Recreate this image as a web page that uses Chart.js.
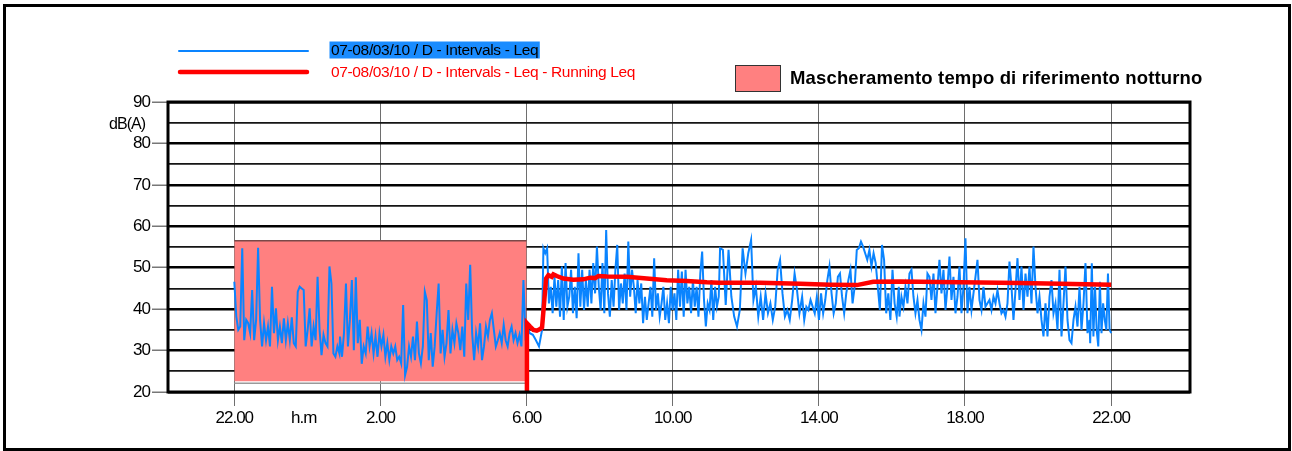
<!DOCTYPE html>
<html>
<head>
<meta charset="utf-8">
<script src="https://cdn.jsdelivr.net/npm/chart.js@4.4.1/dist/chart.umd.min.js"></script>
<style>
  html, body { margin: 0; padding: 0; background: #fff; }
  canvas { display: block; }
</style>
</head>
<body>
<canvas id="leqChart" width="1292" height="451"></canvas>
<script>
// x axis: hours after 22:00 on 07/03/10
const tickHours = [0, 4, 8, 12, 16, 20, 24];
const tickLabels = ['22.00', '2.00', '6.00', '10.00', '14.00', '18.00', '22.00'];
const xRange = [-1.815, 26.16];
const yRange = [20, 90];

// night masking window (22:00 - 6:00)
const maskHours = [0, 8];
const maskLevels = [56.5, 22.6];
const maskBaseLevel = 22.1;

// Leq intervals, split into stretches; each stretch spans segStart..segEnd
const segStart = [0.0, 2.894, 8.005, 8.461, 13.297, 14.21, 15.543, 18.207, 23.428];
const segEnd = [2.876, 7.968, 8.424, 13.261, 14.146, 15.469, 18.189, 23.409, 24.003];

const leqNight1 = [46.6, 38.2, 35.0, 35.8, 54.7, 32.5, 37.4, 36.6, 34.2, 44.6, 32.5, 37.4, 54.8, 37.4, 31.0, 36.6, 32.5, 35.8,
  31.0, 45.4, 34.2, 40.2, 32.5, 35.8, 31.8, 37.8, 32.5, 36.6, 32.5, 38.0, 31.8, 31.0, 44.2, 45.4, 45.0, 44.6, 31.0, 35.0,
  40.2, 31.0, 35.8, 32.5, 47.8, 35.0, 28.9, 33.8, 31.8, 31.0, 50.3, 46.2, 29.3, 28.5, 31.0, 29.3];
const leqNight2 = [33.4, 28.5, 34.2, 46.2, 31.0, 37.4, 47.0, 30.1, 47.7, 31.8, 37.4, 26.8, 31.0, 29.3, 35.8, 31.0, 34.2, 29.3,
  33.4, 28.5, 34.2, 31.0, 33.8, 28.5, 31.8, 27.7, 31.0, 29.3, 31.0, 27.7, 28.5, 26.9, 41.0, 24.1, 26.1, 31.0, 28.5, 33.4,
  27.7, 37.0, 29.3, 26.9, 31.0, 44.2, 42.2, 27.7, 34.2, 26.1, 31.0, 39.0, 46.2, 29.3, 35.0, 28.5, 31.8, 39.8, 29.3, 35.0,
  31.8, 36.6, 34.2, 30.1, 35.8, 28.5, 46.2, 37.4, 50.7, 34.2, 27.7, 34.2, 31.0, 36.6, 27.7, 31.0, 35.8, 33.4, 37.4, 39.0,
  35.0, 31.0, 32.5, 34.2, 31.8, 36.2, 32.5, 31.0, 34.2, 35.8, 32.5, 34.2, 31.8, 33.8, 31.0, 47.0, 34.2];
const leqDawn = [35.8, 34.2, 33.8, 32.5, 31.0, 35.0];
const leqMorning = [54.7, 53.5, 54.7, 41.4, 45.4, 39.0, 47.8, 40.6, 47.0, 38.2, 50.3, 37.4, 51.1, 40.6, 43.0, 49.5, 39.0, 45.4,
  37.8, 53.5, 40.6, 49.5, 39.8, 47.0, 40.6, 49.5, 41.4, 51.1, 43.8, 55.1, 45.4, 39.8, 51.1, 39.0, 59.1, 43.8, 38.2, 47.0,
  40.6, 49.5, 55.5, 39.8, 46.2, 41.4, 48.6, 39.8, 56.3, 43.0, 49.5, 45.4, 39.0, 47.0, 41.4, 46.2, 36.6, 43.0, 37.4, 41.4,
  45.4, 38.2, 52.3, 39.8, 43.8, 38.2, 41.4, 45.4, 37.4, 41.4, 36.6, 45.4, 39.8, 43.8, 37.4, 49.5, 40.6, 49.1, 38.2, 49.5,
  41.4, 45.4, 39.0, 47.0, 40.6, 45.4, 38.2, 48.6, 53.9, 42.2, 35.8, 41.4, 39.8, 47.0, 37.4, 45.4, 40.6, 43.0];
const leqNoon = [54.7, 54.3, 41.0, 54.3, 43.0, 38.2, 35.8, 39.8, 54.7, 48.6, 53.5, 56.7];
const leqEarlyAfternoon = [42.2, 45.4, 38.2, 43.0, 37.4, 43.8, 39.0, 41.4, 37.4, 40.6, 49.5, 51.9, 43.8, 38.2, 39.8, 37.4,
  42.2, 48.6, 44.6, 39.0];
const leqAfternoon = [43.0, 37.4, 40.6, 39.8, 42.2, 40.6, 39.0, 43.0, 37.4, 43.8, 39.0, 42.2, 47.0, 50.3, 43.8, 39.0, 41.4,
  47.8, 48.6, 43.0, 39.0, 43.8, 47.0, 49.5, 41.4, 45.4, 54.3, 54.7, 56.3, 55.1, 53.5, 51.9, 54.3, 50.3, 53.5, 51.1, 45.4,
  39.8, 55.5, 51.9, 39.0, 43.8, 37.4, 49.5, 41.4, 38.2, 45.4];
const leqEvening = [38.2, 43.0, 40.6, 45.4, 41.4, 48.6, 49.5, 43.0, 39.0, 42.2, 37.4, 35.0, 41.4, 38.2, 48.6, 47.8, 42.2, 48.6,
  39.0, 45.4, 51.9, 43.8, 49.5, 39.8, 45.4, 52.7, 42.2, 47.8, 39.0, 43.0, 50.3, 39.0, 45.4, 57.1, 39.0, 45.4, 39.8, 43.8,
  47.8, 51.9, 42.2, 39.8, 45.4, 40.6, 41.4, 42.2, 39.8, 43.0, 41.4, 44.6, 41.4, 39.0, 39.8, 38.2, 41.4, 51.5, 45.4, 37.4,
  44.6, 52.3, 42.2, 50.3, 39.8, 48.6, 43.0, 50.3, 41.4, 55.1, 45.4, 39.0, 43.0, 37.4, 33.4, 41.4, 33.4, 43.0, 47.0, 39.0,
  41.4, 35.0, 49.5, 33.4, 41.4, 50.3, 37.4, 32.5, 31.8, 37.4, 40.6, 35.8, 45.4, 35.0, 41.4, 51.1, 34.2, 37.4];
const leqLate = [31.8, 51.1, 33.4, 45.4, 35.0, 31.0, 46.6, 34.2, 41.4, 37.4, 35.0, 48.6, 35.0, 34.2];
const leqSegments = [leqNight1, leqNight2, leqDawn, leqMorning, leqNoon, leqEarlyAfternoon, leqAfternoon, leqEvening, leqLate];

// running Leq (starts at 6:00)
const runHours = [8.0, 8.01, 8.096, 8.186, 8.279, 8.37, 8.424, 8.479, 8.534, 8.597, 8.69, 8.734, 8.827, 9.008, 9.281, 9.555,
  9.739, 9.875, 9.966, 10.196, 10.743, 11.291, 11.838, 12.386, 12.934, 13.26, 14.39, 15.49, 16.31, 17.04, 17.49, 18.23,
  19.87, 21.51, 22.6, 24.003];
const runLeq = [20.0, 36.6, 35.8, 35.0, 34.8, 35.2, 35.6, 41.4, 47.4, 48.2, 47.8, 48.4, 48.0, 47.4, 47.1, 47.2,
  47.6, 47.5, 48.0, 47.9, 47.8, 47.4, 47.0, 46.8, 46.5, 46.4, 46.4, 46.1, 45.9, 45.8, 46.6, 46.7,
  46.5, 46.3, 46.1, 45.9];

const legendLabels = ['07-08/03/10 / D - Intervals - Leq', '07-08/03/10 / D - Intervals - Leq - Running Leq',
  'Mascheramento tempo di riferimento notturno'];

const BLUE = '#0a84ff';
const RED = '#ff0000';
const PINK = '#ff8080';
const FONT = "'Liberation Sans', Arial, sans-serif";

Chart.defaults.font.family = FONT;
Chart.defaults.color = '#000';

const leqPoints = [];
leqSegments.forEach((vals, s) => {
  const step = (segEnd[s] - segStart[s]) / (vals.length - 1);
  vals.forEach((v, i) => leqPoints.push({ x: segStart[s] + i * step, y: v }));
});
const runPoints = runHours.map((h, i) => ({ x: h, y: runLeq[i] }));
const maskPoints = maskHours.map(h => ({ x: h, y: maskLevels[0] }));
const maskBase = maskHours.map(h => ({ x: h, y: maskBaseLevel }));

// legend, frames and the loose captions
const overlay = {
  id: 'overlay',
  beforeDraw(chart) {
    chart.ctx.letterSpacing = '-1px';
  },
  afterDraw(chart) {
    const { ctx, chartArea: a } = chart;
    ctx.save();
    ctx.letterSpacing = '0px';
    ctx.strokeStyle = '#000';
    ctx.lineWidth = 3;
    ctx.strokeRect(a.left, a.top, a.right - a.left, a.bottom - a.top);
    ctx.strokeRect(4.5, 5.5, 1285, 444);

    // series legend
    ctx.lineCap = 'round';
    ctx.strokeStyle = BLUE;
    ctx.lineWidth = 2;
    ctx.beginPath(); ctx.moveTo(179, 51); ctx.lineTo(308, 51); ctx.stroke();
    ctx.strokeStyle = RED;
    ctx.lineWidth = 4.5;
    ctx.beginPath(); ctx.moveTo(180, 72); ctx.lineTo(307, 72); ctx.stroke();

    ctx.font = '15.5px ' + FONT;
    ctx.textBaseline = 'middle';
    ctx.letterSpacing = '-0.35px';
    const w0 = ctx.measureText(legendLabels[0]).width;
    ctx.fillStyle = '#1a8cff';
    ctx.fillRect(329.5, 41.5, w0 + 3, 17);
    ctx.fillStyle = '#000';
    ctx.fillText(legendLabels[0], 331, 50.5);
    ctx.fillStyle = RED;
    ctx.fillText(legendLabels[1], 331, 72.5);

    // mask legend
    ctx.fillStyle = PINK;
    ctx.fillRect(735.5, 65.5, 45, 26);
    ctx.lineWidth = 1;
    ctx.strokeStyle = '#333';
    ctx.strokeRect(735.5, 65.5, 45, 26);
    ctx.fillStyle = '#000';
    ctx.font = 'bold 18.5px ' + FONT;
    ctx.letterSpacing = '0.15px';
    ctx.fillText(legendLabels[2], 790, 79);

    // axis captions
    ctx.font = '16px ' + FONT;
    ctx.letterSpacing = '-1px';
    ctx.textAlign = 'right';
    ctx.fillText('dB(A)', 145, 125);
    ctx.textAlign = 'left';
    ctx.font = '17px ' + FONT;
    ctx.fillText('h.m', 291, 418);
    ctx.restore();
  }
};

new Chart(document.getElementById('leqChart'), {
  type: 'line',
  data: {
    datasets: [
      {
        label: legendLabels[2],
        data: maskPoints,
        borderColor: '#7a4848',
        borderWidth: 1.5,
        backgroundColor: PINK,
        fill: { value: maskLevels[1] },
        pointRadius: 0,
        order: 4
      },
      {
        label: 'mask base',
        data: maskBase,
        borderColor: '#9a9a9a',
        borderWidth: 1.5,
        pointRadius: 0,
        fill: false,
        order: 3
      },
      {
        label: legendLabels[0],
        data: leqPoints,
        borderColor: BLUE,
        borderWidth: 2,
        pointRadius: 0,
        tension: 0,
        fill: false,
        order: 2
      },
      {
        label: legendLabels[1],
        data: runPoints,
        borderColor: RED,
        borderWidth: 4.5,
        pointRadius: 0,
        tension: 0,
        fill: false,
        order: 1
      }
    ]
  },
  options: {
    responsive: false,
    animation: false,
    events: [],
    layout: { padding: { top: 102, right: 102, left: 0, bottom: 0 } },
    plugins: {
      legend: { display: false },
      tooltip: { enabled: false },
      title: { display: false }
    },
    scales: {
      x: {
        type: 'linear',
        min: xRange[0],
        max: xRange[1],
        afterBuildTicks: (scale) => { scale.ticks = tickHours.map(v => ({ value: v })); },
        afterFit: (scale) => { scale.height = 59; },
        border: { display: false },
        grid: { color: '#6e6e6e', lineWidth: 1, tickLength: 14, tickColor: '#6e6e6e' },
        ticks: {
          autoSkip: false,
          maxRotation: 0,
          padding: 2,
          font: { size: 17 },
          color: '#000',
          callback: (v) => tickLabels[tickHours.indexOf(v)] ?? ''
        }
      },
      y: {
        min: yRange[0],
        max: yRange[1],
        afterFit: (scale) => { scale.width = 168; },
        border: { display: false },
        grid: {
          color: (c) => (c.tick && c.tick.value % 10 === 0 ? '#000' : '#151515'),
          lineWidth: (c) => (c.tick && c.tick.value % 10 === 0 ? 2.5 : 1.8),
          tickLength: 16,
          tickWidth: 1.5,
          tickColor: (c) => (c.tick && c.tick.value % 10 === 0 ? '#777' : 'rgba(0,0,0,0)')
        },
        ticks: {
          stepSize: 5,
          autoSkip: false,
          padding: 2,
          font: { size: 17 },
          color: '#000',
          callback: (v) => (v % 10 === 0 ? String(v) : '')
        }
      }
    }
  },
  plugins: [overlay]
});
</script>
</body>
</html>
